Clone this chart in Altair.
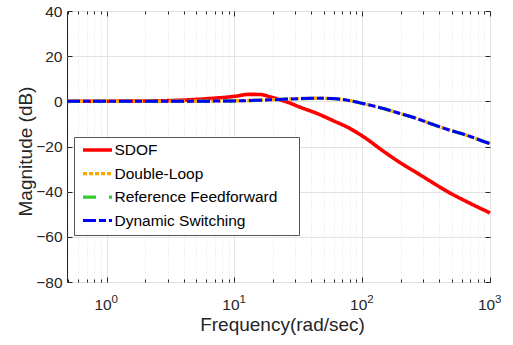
import altair as alt
import pandas as pd

# ---- data ----
series_names = ["SDOF", "Double-Loop", "Reference Feedforward", "Dynamic Switching"]
series_colors = ["#ff0000", "#ffa500", "#33cc33", "#0000ff"]
series_dash = [[1, 0], [4, 2], [13, 13], [13, 3, 7, 3]]
series_width = [3.6, 3, 3, 3]

sdof_w = [0.49, 1, 2, 3, 5, 7, 10, 13, 16, 19, 23, 27, 32, 44, 59, 80, 100, 150, 200, 265, 316, 480, 700, 1000]
sdof_db = [0, 0.05, 0.15, 0.3, 0.85, 1.4, 2.2, 3.1, 3.0, 2.0, 0.6, -0.7, -2.4, -5.3, -8.5, -12.0, -15.3,
           -22.5, -27.3, -31.5, -34.2, -40.4, -45.2, -49.4]

ctrl_w = [0.49, 1, 3, 6, 10, 15, 24, 32, 46, 59, 80, 100, 145, 195, 264, 356, 480, 648, 930, 1000]
ctrl_db = [0, 0, 0.02, 0.08, 0.2, 0.45, 0.9, 1.2, 1.35, 1.2, 0.3, -0.9, -3.1, -5.3, -7.5, -10.2, -12.7,
           -14.9, -18.1, -18.7]

x_major = [1, 10, 100, 1000]
x_minor = [0.5, 0.6, 0.7, 0.8, 0.9, 2, 3, 4, 5, 6, 7, 8, 9, 20, 30, 40, 50, 60, 70, 80, 90,
           200, 300, 400, 500, 600, 700, 800, 900]
y_ticks = [-80, -60, -40, -20, 0, 20, 40]
x_domain = [0.49, 1000]
y_domain = [-80, 40]

rows = []
for name in series_names:
    if name == "SDOF":
        ws, ds = sdof_w, sdof_db
    else:
        ws, ds = ctrl_w, ctrl_db
    for i, (w, d) in enumerate(zip(ws, ds)):
        rows.append({"series": name, "freq": w, "db": d, "order": i})
df = pd.DataFrame(rows)

W, H = 423, 271
FONT = "Liberation Sans"
TXT = "#262626"
SPACER = "\u2014\u2014"  # invisible (opacity 0) legend title that pads the box on the right

xscale = alt.Scale(type="log", domain=x_domain, nice=False)
yscale = alt.Scale(domain=y_domain, nice=False, zero=False)

base = alt.Chart(df)

legend_def = alt.Legend(title=SPACER, titleOrient="right", titleOpacity=0, titleFontSize=8.5,
                        titlePadding=0)

main = base.mark_line(interpolate="monotone").encode(
    x=alt.X("freq:Q", scale=xscale, axis=alt.Axis(
        orient="bottom", values=x_major, labelExpr="'10'", ticks=False, domain=False, grid=True,
        gridColor="#e3e3e3", gridWidth=1, labelFont=FONT, labelFontSize=15.5, labelColor=TXT,
        labelBaseline="alphabetic", labelPadding=27, labelAlign="center", labelOffset=-4,
        title="Frequency(rad/sec)", titleFont=FONT, titleFontSize=19, titleFontWeight="normal",
        titleColor=TXT, titleBaseline="alphabetic", titleY=48, titleX=215)),
    y=alt.Y("db:Q", scale=yscale, axis=alt.Axis(
        orient="left", values=y_ticks, ticks=False, domain=False, grid=True, gridColor="#e3e3e3",
        labelFont=FONT, labelFontSize=15.5, labelColor=TXT, labelPadding=5,
        title="Magnitude (dB)", titleFont=FONT, titleFontSize=19, titleFontWeight="normal",
        titleColor=TXT, titleBaseline="alphabetic", titleX=-36, titleY=140, titleAngle=270)),
    color=alt.Color("series:N", scale=alt.Scale(domain=series_names, range=series_colors),
                    legend=legend_def),
    strokeDash=alt.StrokeDash("series:N", scale=alt.Scale(domain=series_names, range=series_dash),
                              legend=legend_def),
    strokeWidth=alt.StrokeWidth("series:N", scale=alt.Scale(domain=series_names, range=series_width),
                                legend=None),
    order="order:Q",
)

def ghost(xaxis, yaxis=None):
    return base.mark_point(opacity=0).encode(
        x=alt.X("freq:Q", scale=xscale, axis=xaxis, title=None),
        y=alt.Y("db:Q", scale=yscale, axis=yaxis, title=None),
    )

sup = ghost(alt.Axis(orient="bottom", values=x_major,
                     labelExpr="format(log(datum.value)/LN10, '.0f')",
                     ticks=False, domain=False, grid=False, labelFont=FONT, labelFontSize=11.5,
                     labelColor=TXT, labelBaseline="alphabetic", labelPadding=20,
                     labelAlign="left", labelOffset=4.5))
minor_grid = ghost(alt.Axis(orient="bottom", values=x_minor, labels=False, ticks=False,
                            domain=False, grid=True, gridColor="#e2e2e2", gridDash=[1, 2],
                            gridWidth=1))
ticks_a = ghost(alt.Axis(orient="top", offset=-H, values=x_major, labels=False, domain=False,
                         grid=False, ticks=True, tickSize=5, tickColor=TXT),
                alt.Axis(orient="right", offset=-W, values=y_ticks, labels=False, domain=False,
                         grid=False, ticks=True, tickSize=5, tickColor=TXT))
ticks_b = ghost(alt.Axis(orient="top", offset=-H, values=x_minor, labels=False, domain=False,
                         grid=False, ticks=True, tickSize=3, tickColor=TXT),
                alt.Axis(orient="left", offset=-W, values=y_ticks, labels=False, domain=False,
                         grid=False, ticks=True, tickSize=5, tickColor=TXT))
ticks_c = ghost(alt.Axis(orient="bottom", offset=-H, values=x_major, labels=False, domain=False,
                         grid=False, ticks=True, tickSize=5, tickColor=TXT))
ticks_d = ghost(alt.Axis(orient="bottom", offset=-H, values=x_minor, labels=False, domain=False,
                         grid=False, ticks=True, tickSize=3, tickColor=TXT))

chart = alt.layer(minor_grid, main, sup, ticks_a, ticks_b, ticks_c, ticks_d).resolve_axis(
    x="independent", y="independent"
).properties(
    width=W, height=H,
    autosize=alt.AutoSizeParams(type="none"),
    padding={"left": 67, "top": 11, "right": 23, "bottom": 63},
    background="white",
).configure_view(
    stroke=TXT, strokeWidth=1
).configure_legend(
    orient="none", legendX=7, legendY=126, fillColor="white", strokeColor="#555555",
    padding=5, symbolType="M-2.4167,0H2.4167", symbolSize=144, symbolOffset=10.5,
    symbolStrokeWidth=3, labelFont=FONT, labelFontSize=15.5, labelColor="#000000",
    labelOffset=9, rowPadding=6.6, labelLimit=320,
)

chart.save("out.html", embed_options={"renderer": "svg", "actions": False})
